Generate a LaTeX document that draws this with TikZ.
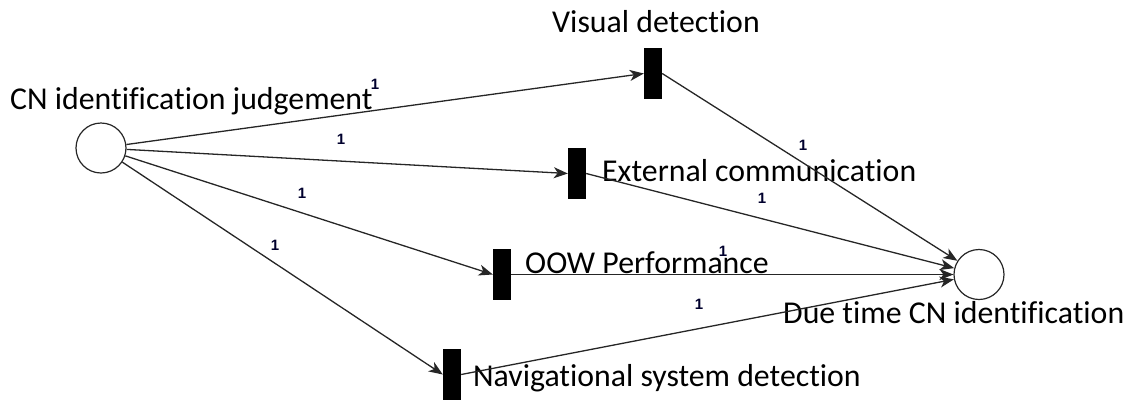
\documentclass[tikz,border=0pt]{standalone}
\usepackage{fontspec}
\setmainfont[Ligatures=NoCommon]{Carlito}
\newfontfamily\weightfont{Liberation Sans}
\usetikzlibrary{arrows.meta}
\begin{document}
\begin{tikzpicture}[x=1pt,y=-1pt,
  place/.style={circle,draw=black!85,line width=1.2pt,minimum size=50pt,inner sep=0pt},
  trans/.style={rectangle,fill=black,draw=none,minimum width=18pt,minimum height=51pt,inner sep=0pt},
  arc/.style={draw=black!85,line width=1.3pt,-{Stealth[length=14pt,width=11pt,inset=4pt]}},
  lbl/.style={font=\fontsize{31.8}{34}\selectfont,inner sep=0pt,anchor=base west},
  weight/.style={font=\weightfont\bfseries\fontsize{15}{16}\selectfont,text=black!75!blue!70!black,inner sep=0pt}]
\useasboundingbox (0,0) rectangle (1135,400);

% places
\node[place] (judge) at (101,148) {};
\node[place] (due) at (979,274.5) {};

% transitions
\node[trans] (visual) at (653,73.5) {};
\node[trans] (extcomm) at (577,173.5) {};
\node[trans] (oow) at (502,274.5) {};
\node[trans] (nav) at (452,374.5) {};

% labels
\node[lbl] (tjudge) at (10,109) {CN identification judgement};
\node[lbl] (tvisual) at (552,32) {Visual detection};
\node[lbl] (textcomm) at (602,181) {External communication};
\node[lbl] (toow) at (525,273) {OOW Performance};
\node[lbl] (tnav) at (473,386) {Navigational system detection};
\node[lbl] (tdue) at (783,323) {Due time CN identification};

% input arcs
\draw[arc] (judge) -- (visual.west);
\draw[arc] (judge) -- (extcomm.west);
\draw[arc] (judge) -- (oow.west);
\draw[arc] (judge) -- (nav.west);

% output arcs
\draw[arc] (visual.east) -- (due);
\draw[arc] (extcomm.east) -- (due);
\draw[arc] (oow.east) -- (due);
\draw[arc] (nav.east) -- (due);

% arc weights
\node[weight] (w1) at (375,84) {1};
\node[weight] (w2) at (341,139) {1};
\node[weight] (w3) at (302,193) {1};
\node[weight] (w4) at (275,245) {1};
\node[weight] (w5) at (803,145) {1};
\node[weight] (w6) at (762,198) {1};
\node[weight] (w7) at (723,251) {1};
\node[weight] (w8) at (699,304) {1};
\end{tikzpicture}
\end{document}
